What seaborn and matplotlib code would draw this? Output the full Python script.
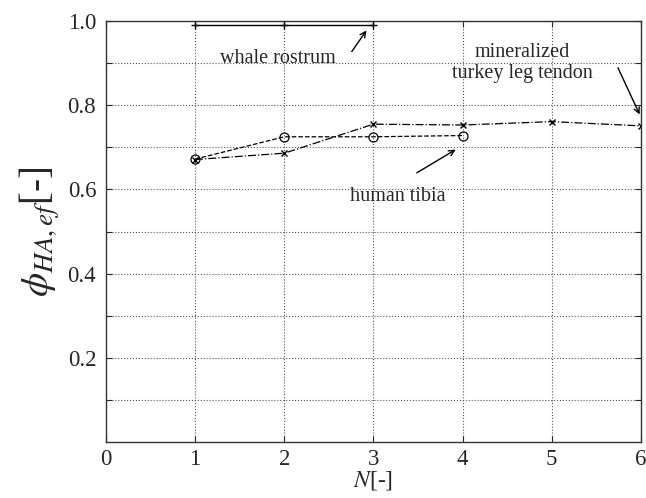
import numpy as np
import seaborn as sns
import matplotlib.pyplot as plt
import pandas as pd

# data
n_whale = [1, 2, 3]
phi_whale = [0.99, 0.99, 0.99]
n_tibia = [1, 2, 3, 4]
phi_tibia = [0.672, 0.725, 0.725, 0.728]
n_turkey = [1, 2, 3, 4, 5, 6]
phi_turkey = [0.671, 0.686, 0.755, 0.753, 0.761, 0.751]
x_ticks = [0, 1, 2, 3, 4, 5, 6]
y_ticks = [0.1, 0.2, 0.3, 0.4, 0.5, 0.6, 0.7, 0.8, 0.9, 1.0]
y_labels = ['', '0.2', '', '0.4', '', '0.6', '', '0.8', '', '1.0']

sns.set_style('ticks')
plt.rcParams['font.family'] = ['Liberation Serif', 'DejaVu Serif']
plt.rcParams['mathtext.fontset'] = 'stix'

fig = plt.figure(figsize=(6.46, 4.98), dpi=100)
ax = fig.add_axes([0.164, 0.1124, 0.828, 0.8454])

sns.lineplot(x=n_whale, y=phi_whale, ax=ax, color='k', lw=1, ls='-',
             marker='+', markersize=6, markeredgecolor='k', markeredgewidth=1)
sns.lineplot(x=n_tibia, y=phi_tibia, ax=ax, color='k', lw=0.9, ls='--',
             marker='o', markersize=6.5, markerfacecolor='none',
             markeredgecolor='k', markeredgewidth=0.9)
sns.lineplot(x=n_turkey, y=phi_turkey, ax=ax, color='k', lw=0.9, ls='-.',
             marker='x', markersize=4, markeredgecolor='k', markeredgewidth=1)

ax.set_xlim(0, 6)
ax.set_ylim(0, 1.0)
ax.set_xticks(x_ticks)
ax.set_xticklabels([str(t) for t in x_ticks], fontsize=16.5)
ax.set_yticks(y_ticks)
ax.set_yticklabels(y_labels, fontsize=16.5)
ax.tick_params(direction='in', top=True, right=True, length=4, width=0.8, pad=7)
ax.tick_params(axis='x', pad=5)
ax.grid(True, ls=':', color='#555555', lw=0.8)
for s in ax.spines.values():
    s.set_color('#333333')
    s.set_linewidth(1)

ax.set_xlabel(r'$N$[-]', fontsize=17, labelpad=-1)
ax.set_ylabel(r'$\phi_{HA,ef}$[-]', fontsize=28, labelpad=4)

arrow = dict(arrowstyle='->', color='k', lw=1)
ax.annotate('whale rostrum', xy=(2.94, 0.983), xytext=(1.93, 0.912),
            fontsize=14.5, ha='center', va='center')
ax.annotate('', xy=(2.94, 0.983), xytext=(2.74, 0.922), arrowprops=arrow)
ax.annotate('mineralized\nturkey leg tendon', xy=(4.67, 0.90),
            fontsize=14.5, ha='center', va='center', linespacing=1.1)
ax.annotate('', xy=(6.0, 0.772), xytext=(5.73, 0.895), arrowprops=arrow,
            annotation_clip=False)
ax.annotate('human tibia', xy=(3.27, 0.584), fontsize=14.5,
            ha='center', va='center')
ax.annotate('', xy=(3.95, 0.698), xytext=(3.46, 0.636), arrowprops=arrow)

fig.savefig('out.png', dpi=100)
